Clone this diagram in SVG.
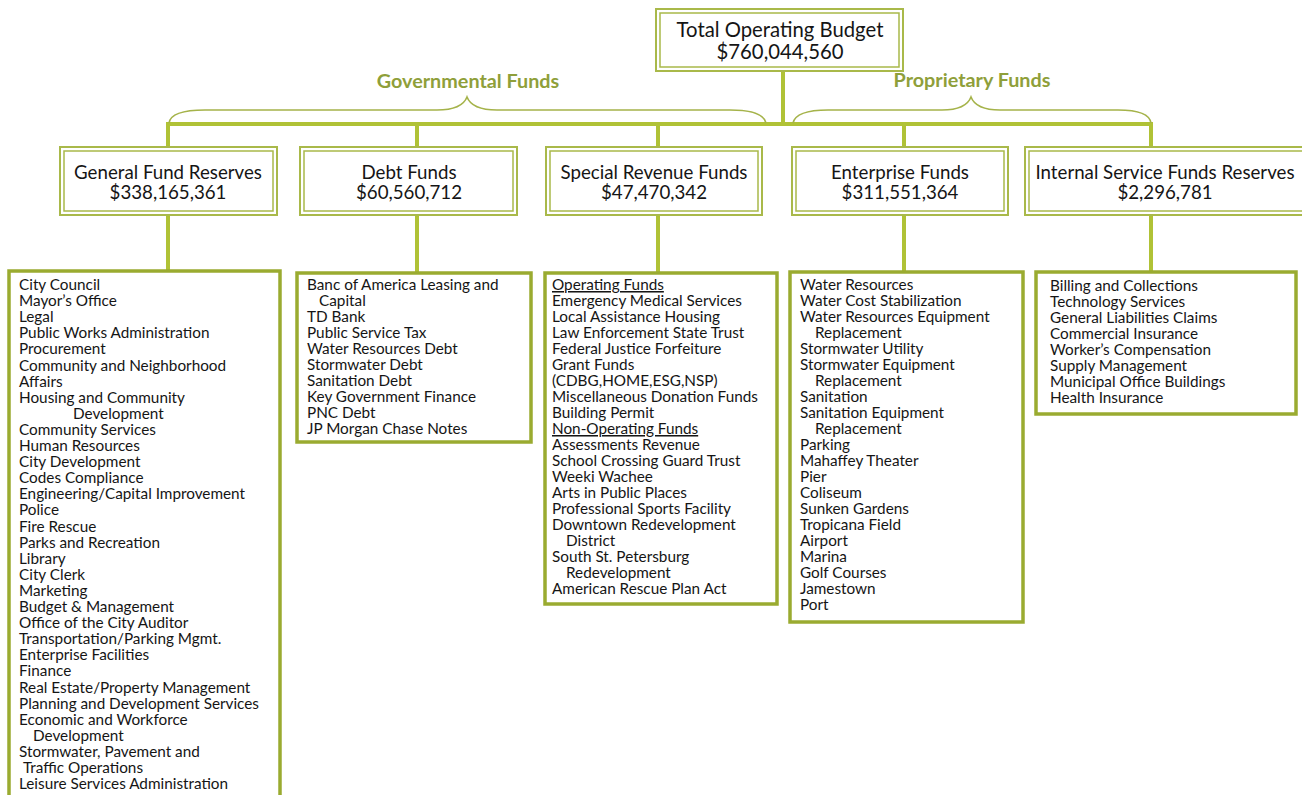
<svg xmlns="http://www.w3.org/2000/svg" width="1302" height="795" viewBox="0 0 1302 795">
  <style>
    .conn { stroke: #b0c236; stroke-width: 4; fill: none; }
    .brace { stroke: #a5b34a; stroke-width: 1.6; fill: none; }
    .dbl-o { fill: #ffffff; stroke: #a9b94a; stroke-width: 2; }
    .dbl-i { fill: none; stroke: #a9b94a; stroke-width: 1.5; }
    .list { fill: #ffffff; stroke: #9aab30; stroke-width: 3.5; }
    .title { font-family: Lato, "Liberation Sans", sans-serif; font-size: 18.7px; fill: #151515; text-anchor: middle; }
    .top { font-size: 20.3px; }
    .group-label { font-family: Lato, "Liberation Sans", sans-serif; font-size: 19.8px; font-weight: bold; fill: #8f9f3a; text-anchor: middle; }
    .item { font-family: Lato, "Liberation Sans", sans-serif; font-size: 15.3px; fill: #151515; }
    .u { text-decoration: underline; }
  </style>

  <rect width="1302" height="795" fill="#ffffff"/>

  <!-- connectors and braces -->
  <g id="connectors">
    <line class="conn" x1="783" y1="71" x2="783" y2="124"/>
    <line class="conn" x1="168" y1="124" x2="1152" y2="124"/>
    <line class="conn" x1="168" y1="122" x2="168" y2="147"/>
    <line class="conn" x1="417" y1="122" x2="417" y2="147"/>
    <line class="conn" x1="658" y1="122" x2="658" y2="147"/>
    <line class="conn" x1="904" y1="122" x2="904" y2="147"/>
    <line class="conn" x1="1151" y1="122" x2="1151" y2="147"/>
    <line class="conn" x1="168" y1="215" x2="168" y2="270"/>
    <line class="conn" x1="417" y1="215" x2="417" y2="272"/>
    <line class="conn" x1="658" y1="215" x2="658" y2="272"/>
    <line class="conn" x1="904" y1="215" x2="904" y2="272"/>
    <line class="conn" x1="1151" y1="215" x2="1151" y2="272"/>
    <path class="brace" d="M 169 123 Q 171 110 205 110 L 437 110 Q 462 110 467 97 Q 472 110 497 110 L 730 110 Q 763 110 766 123"/>
    <path class="brace" d="M 793 123 Q 796 110 828 110 L 942 110 Q 966 110 971 97 Q 976 110 1000 110 L 1118 110 Q 1149 110 1151 123"/>
    <text class="group-label" x="468" y="88">Governmental Funds</text>
    <text class="group-label" x="972" y="87">Proprietary Funds</text>
  </g>

  <!-- root -->
  <g id="total-budget">
    <rect class="dbl-o" x="656" y="9" width="247" height="62"/>
    <rect class="dbl-i" x="660" y="13" width="239" height="54"/>
    <text class="title top" x="780" y="37">Total Operating Budget</text>
    <text class="title top" x="780" y="59">$760,044,560</text>
  </g>

  <!-- fund level -->
  <g id="general-fund">
    <rect class="dbl-o" x="60" y="147" width="217" height="68"/>
    <rect class="dbl-i" x="64" y="151" width="209" height="60"/>
    <text class="title" x="168" y="179">General Fund Reserves</text>
    <text class="title" x="168" y="199">$338,165,361</text>
  </g>
  <g id="debt-funds">
    <rect class="dbl-o" x="300" y="147" width="217" height="68"/>
    <rect class="dbl-i" x="304" y="151" width="209" height="60"/>
    <text class="title" x="409" y="179">Debt Funds</text>
    <text class="title" x="409" y="199">$60,560,712</text>
  </g>
  <g id="special-revenue">
    <rect class="dbl-o" x="546" y="147" width="216" height="68"/>
    <rect class="dbl-i" x="550" y="151" width="208" height="60"/>
    <text class="title" x="654" y="179">Special Revenue Funds</text>
    <text class="title" x="654" y="199">$47,470,342</text>
  </g>
  <g id="enterprise-funds">
    <rect class="dbl-o" x="792" y="147" width="216" height="68"/>
    <rect class="dbl-i" x="796" y="151" width="208" height="60"/>
    <text class="title" x="900" y="179">Enterprise Funds</text>
    <text class="title" x="900" y="199">$311,551,364</text>
  </g>
  <g id="internal-service">
    <rect class="dbl-o" x="1025" y="147" width="285" height="68"/>
    <rect class="dbl-i" x="1029" y="151" width="277" height="60"/>
    <text class="title" x="1165" y="179">Internal Service Funds Reserves</text>
    <text class="title" x="1165" y="199">$2,296,781</text>
  </g>

  <!-- detail lists -->
  <g id="general-list">
    <rect class="list" x="9" y="271" width="271" height="540"/>
    <g class="item">
      <text x="19" y="290">City Council</text>
      <text x="19" y="306.1">Mayor’s Office</text>
      <text x="19" y="322.2">Legal</text>
      <text x="19" y="338.3">Public Works Administration</text>
      <text x="19" y="354.4">Procurement</text>
      <text x="19" y="370.5">Community and Neighborhood</text>
      <text x="19" y="386.6">Affairs</text>
      <text x="19" y="402.7">Housing and Community</text>
      <text x="73" y="418.8">Development</text>
      <text x="19" y="434.9">Community Services</text>
      <text x="19" y="451">Human Resources</text>
      <text x="19" y="467.1">City Development</text>
      <text x="19" y="483.2">Codes Compliance</text>
      <text x="19" y="499.3">Engineering/Capital Improvement</text>
      <text x="19" y="515.4">Police</text>
      <text x="19" y="531.5">Fire Rescue</text>
      <text x="19" y="547.6">Parks and Recreation</text>
      <text x="19" y="563.7">Library</text>
      <text x="19" y="579.8">City Clerk</text>
      <text x="19" y="595.9">Marketing</text>
      <text x="19" y="612">Budget &amp; Management</text>
      <text x="19" y="628.1">Office of the City Auditor</text>
      <text x="19" y="644.2">Transportation/Parking Mgmt.</text>
      <text x="19" y="660.3">Enterprise Facilities</text>
      <text x="19" y="676.4">Finance</text>
      <text x="19" y="692.5">Real Estate/Property Management</text>
      <text x="19" y="708.6">Planning and Development Services</text>
      <text x="19" y="724.7">Economic and Workforce</text>
      <text x="33" y="740.8">Development</text>
      <text x="19" y="756.9">Stormwater, Pavement and</text>
      <text x="23" y="773">Traffic Operations</text>
      <text x="19" y="789.1">Leisure Services Administration</text>
    </g>
  </g>

  <g id="debt-list">
    <rect class="list" x="297" y="273" width="234" height="169"/>
    <g class="item">
      <text x="307" y="290">Banc of America Leasing and</text>
      <text x="319" y="306">Capital</text>
      <text x="307" y="322">TD Bank</text>
      <text x="307" y="338">Public Service Tax</text>
      <text x="307" y="354">Water Resources Debt</text>
      <text x="307" y="370">Stormwater Debt</text>
      <text x="307" y="386">Sanitation Debt</text>
      <text x="307" y="402">Key Government Finance</text>
      <text x="307" y="418">PNC Debt</text>
      <text x="307" y="434">JP Morgan Chase Notes</text>
    </g>
  </g>

  <g id="special-list">
    <rect class="list" x="545" y="273" width="232" height="331"/>
    <g class="item">
      <text class="u" x="552" y="290">Operating Funds</text>
      <text x="552" y="306">Emergency Medical Services</text>
      <text x="552" y="322">Local Assistance Housing</text>
      <text x="552" y="338">Law Enforcement State Trust</text>
      <text x="552" y="354">Federal Justice Forfeiture</text>
      <text x="552" y="370">Grant Funds</text>
      <text x="552" y="386">(CDBG,HOME,ESG,NSP)</text>
      <text x="552" y="402">Miscellaneous Donation Funds</text>
      <text x="552" y="418">Building Permit</text>
      <text class="u" x="552" y="434">Non-Operating Funds</text>
      <text x="552" y="450">Assessments Revenue</text>
      <text x="552" y="466">School Crossing Guard Trust</text>
      <text x="552" y="482">Weeki Wachee</text>
      <text x="552" y="498">Arts in Public Places</text>
      <text x="552" y="514">Professional Sports Facility</text>
      <text x="552" y="530">Downtown Redevelopment</text>
      <text x="566" y="546">District</text>
      <text x="552" y="562">South St. Petersburg</text>
      <text x="566" y="578">Redevelopment</text>
      <text x="552" y="594">American Rescue Plan Act</text>
    </g>
  </g>

  <g id="enterprise-list">
    <rect class="list" x="790" y="272" width="233" height="350"/>
    <g class="item">
      <text x="800" y="290">Water Resources</text>
      <text x="800" y="306">Water Cost Stabilization</text>
      <text x="800" y="322">Water Resources Equipment</text>
      <text x="815" y="338">Replacement</text>
      <text x="800" y="354">Stormwater Utility</text>
      <text x="800" y="370">Stormwater Equipment</text>
      <text x="815" y="386">Replacement</text>
      <text x="800" y="402">Sanitation</text>
      <text x="800" y="418">Sanitation Equipment</text>
      <text x="815" y="434">Replacement</text>
      <text x="800" y="450">Parking</text>
      <text x="800" y="466">Mahaffey Theater</text>
      <text x="800" y="482">Pier</text>
      <text x="800" y="498">Coliseum</text>
      <text x="800" y="514">Sunken Gardens</text>
      <text x="800" y="530">Tropicana Field</text>
      <text x="800" y="546">Airport</text>
      <text x="800" y="562">Marina</text>
      <text x="800" y="578">Golf Courses</text>
      <text x="800" y="594">Jamestown</text>
      <text x="800" y="610">Port</text>
    </g>
  </g>

  <g id="internal-list">
    <rect class="list" x="1036" y="272" width="260" height="142"/>
    <g class="item">
      <text x="1050" y="291">Billing and Collections</text>
      <text x="1050" y="307">Technology Services</text>
      <text x="1050" y="323">General Liabilities Claims</text>
      <text x="1050" y="339">Commercial Insurance</text>
      <text x="1050" y="355">Worker’s Compensation</text>
      <text x="1050" y="371">Supply Management</text>
      <text x="1050" y="387">Municipal Office Buildings</text>
      <text x="1050" y="403">Health Insurance</text>
    </g>
  </g>
</svg>
